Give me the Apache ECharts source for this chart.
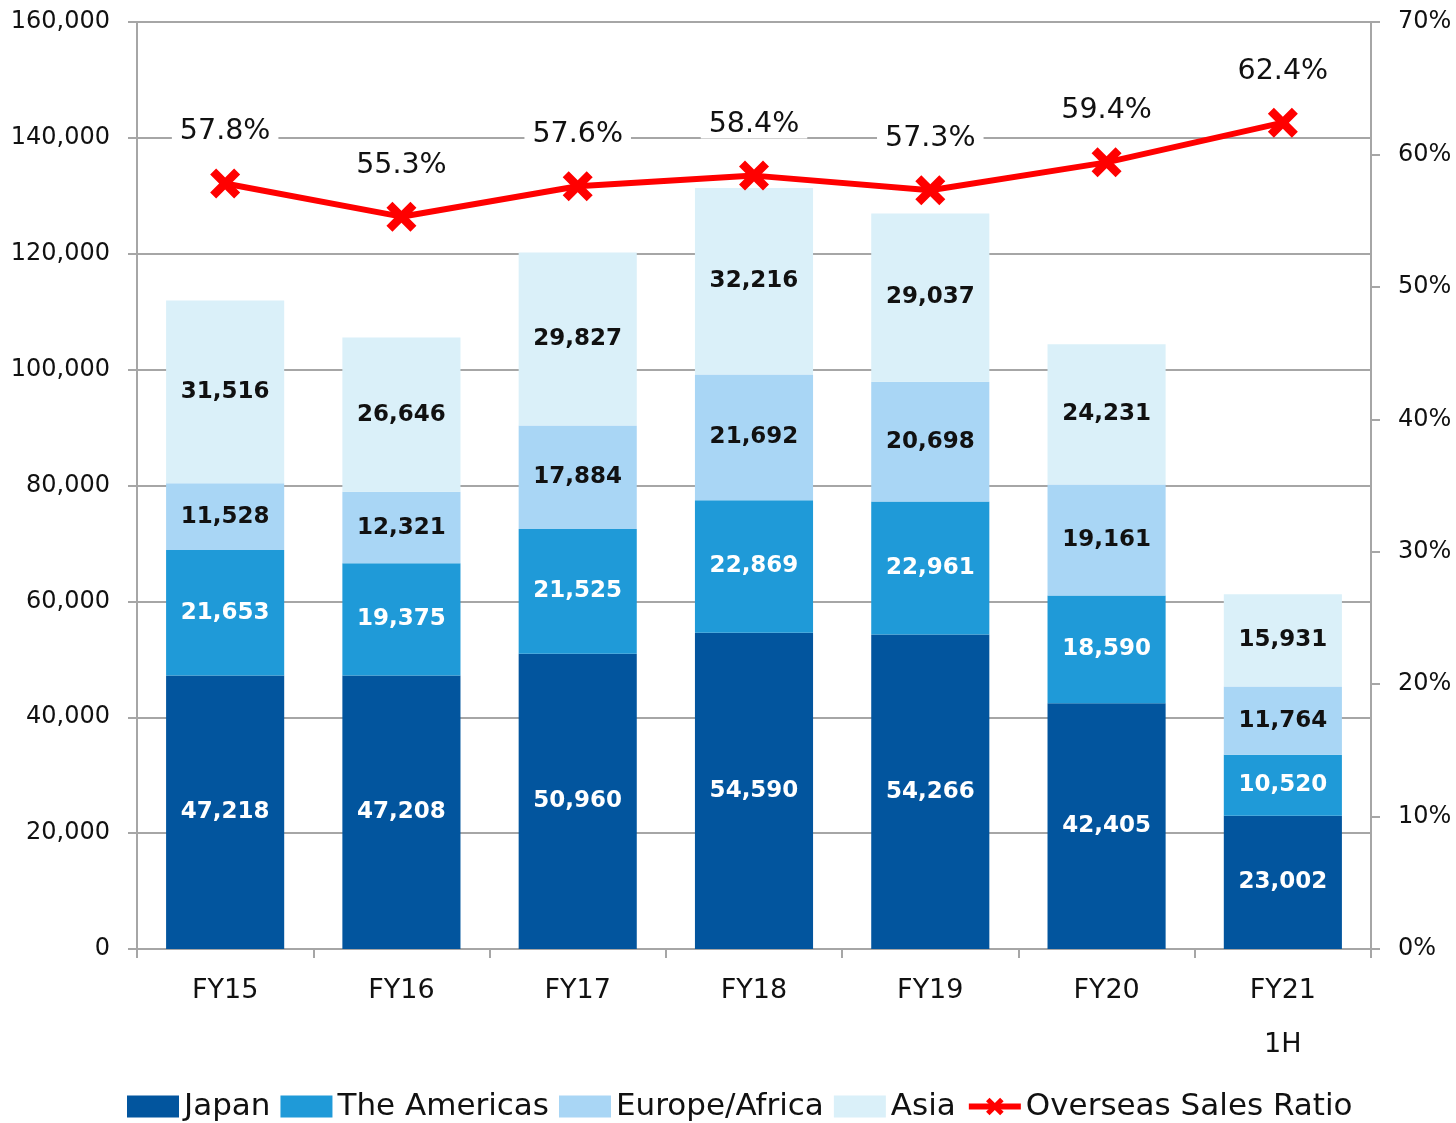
<!DOCTYPE html>
<html>
<head>
    <meta charset="utf-8">
    <title>Sales by region</title>
    <script src="https://cdn.jsdelivr.net/npm/echarts@6/dist/echarts.min.js"></script>
    <style>
        html, body { margin: 0; padding: 0; background: #fff; }
        #main { width: 1456px; height: 1123px; }
    </style>
</head>
<body>
<div id="main"></div>

<script type="text/javascript">
// data
var categories = ['FY15', 'FY16', 'FY17', 'FY18', 'FY19', 'FY20', 'FY21\n1H'];
var japan = [47218, 47208, 50960, 54590, 54266, 42405, 23002];
var americas = [21653, 19375, 21525, 22869, 22961, 18590, 10520];
var europe = [11528, 12321, 17884, 21692, 20698, 19161, 11764];
var asia = [31516, 26646, 29827, 32216, 29037, 24231, 15931];
var ratio = [57.8, 55.3, 57.6, 58.4, 57.3, 59.4, 62.4];

var font = 'DejaVu Sans';
var xMark = 'path://M2,0 L5,3 L8,0 L10,2 L7,5 L10,8 L8,10 L5,7 L2,10 L0,8 L3,5 L0,2 Z';

var myChart = echarts.init(document.getElementById('main'));

function fmt(v) {
    return v.toLocaleString('en-US');
}

function barSeries(name, data, color, labelColor) {
    return {
        name: name,
        type: 'bar',
        stack: 'sales',
        barWidth: '67%',
        data: data,
        itemStyle: { color: color },
        label: {
            show: true,
            position: 'inside',
            fontFamily: font,
            fontWeight: 'bold',
            fontSize: 23,
            color: labelColor,
            formatter: function (p) { return fmt(p.value); }
        }
    };
}

var option = {
    animation: false,
    textStyle: { fontFamily: font },
    grid: { left: 137, right: 85, top: 22, bottom: 174 },
    legend: {
        left: 122,
        top: 1086,
        itemWidth: 52,
        itemHeight: 22,
        itemGap: 10,
        textStyle: { fontFamily: font, fontSize: 31, color: '#111' },
        data: [
            { name: 'Japan', icon: 'rect' },
            { name: 'The Americas', icon: 'rect' },
            { name: 'Europe/Africa', icon: 'rect' },
            { name: 'Asia', icon: 'rect' },
            { name: 'Overseas Sales Ratio', lineStyle: { width: 6, color: '#ff0000' } }
        ]
    },
    xAxis: {
        type: 'category',
        data: categories,
        axisLine: { lineStyle: { color: '#a6a6a6', width: 2 } },
        axisTick: { show: true, length: 9, lineStyle: { color: '#a6a6a6', width: 2 } },
        axisLabel: { fontFamily: font, fontSize: 27, color: '#111', margin: 15, lineHeight: 54 }
    },
    yAxis: [
        {
            type: 'value',
            min: 0,
            max: 160000,
            interval: 20000,
            axisLine: { show: true, lineStyle: { color: '#a6a6a6', width: 2 } },
            axisTick: { show: true, length: 9, lineStyle: { color: '#a6a6a6', width: 2 } },
            splitLine: { show: true, lineStyle: { color: '#a6a6a6', width: 2 } },
            axisLabel: {
                fontFamily: font, fontSize: 24, color: '#111', margin: 27,
                formatter: function (v) { return fmt(v); }
            }
        },
        {
            type: 'value',
            min: 0,
            max: 70,
            interval: 10,
            position: 'right',
            axisLine: { show: true, lineStyle: { color: '#a6a6a6', width: 2 } },
            axisTick: { show: true, length: 9, lineStyle: { color: '#a6a6a6', width: 2 } },
            splitLine: { show: false },
            axisLabel: { fontFamily: font, fontSize: 24, color: '#111', margin: 27, formatter: '{value}%' }
        }
    ],
    series: [
        barSeries('Japan', japan, '#02559e', '#ffffff'),
        barSeries('The Americas', americas, '#1f9ad8', '#ffffff'),
        barSeries('Europe/Africa', europe, '#a9d6f5', '#111111'),
        barSeries('Asia', asia, '#daf0f9', '#111111'),
        {
            name: 'Overseas Sales Ratio',
            type: 'line',
            yAxisIndex: 1,
            data: ratio,
            z: 5,
            symbol: xMark,
            symbolSize: 30,
            lineStyle: { color: '#ff0000', width: 6 },
            itemStyle: { color: '#ff0000' },
            label: {
                show: true,
                position: 'top',
                distance: 22,
                fontFamily: font,
                fontSize: 28.5,
                color: '#111',
                backgroundColor: '#ffffff',
                padding: [0, 8],
                formatter: function (p) { return p.value.toFixed(1) + '%'; }
            }
        }
    ]
};

myChart.setOption(option);
</script>
</body>
</html>
